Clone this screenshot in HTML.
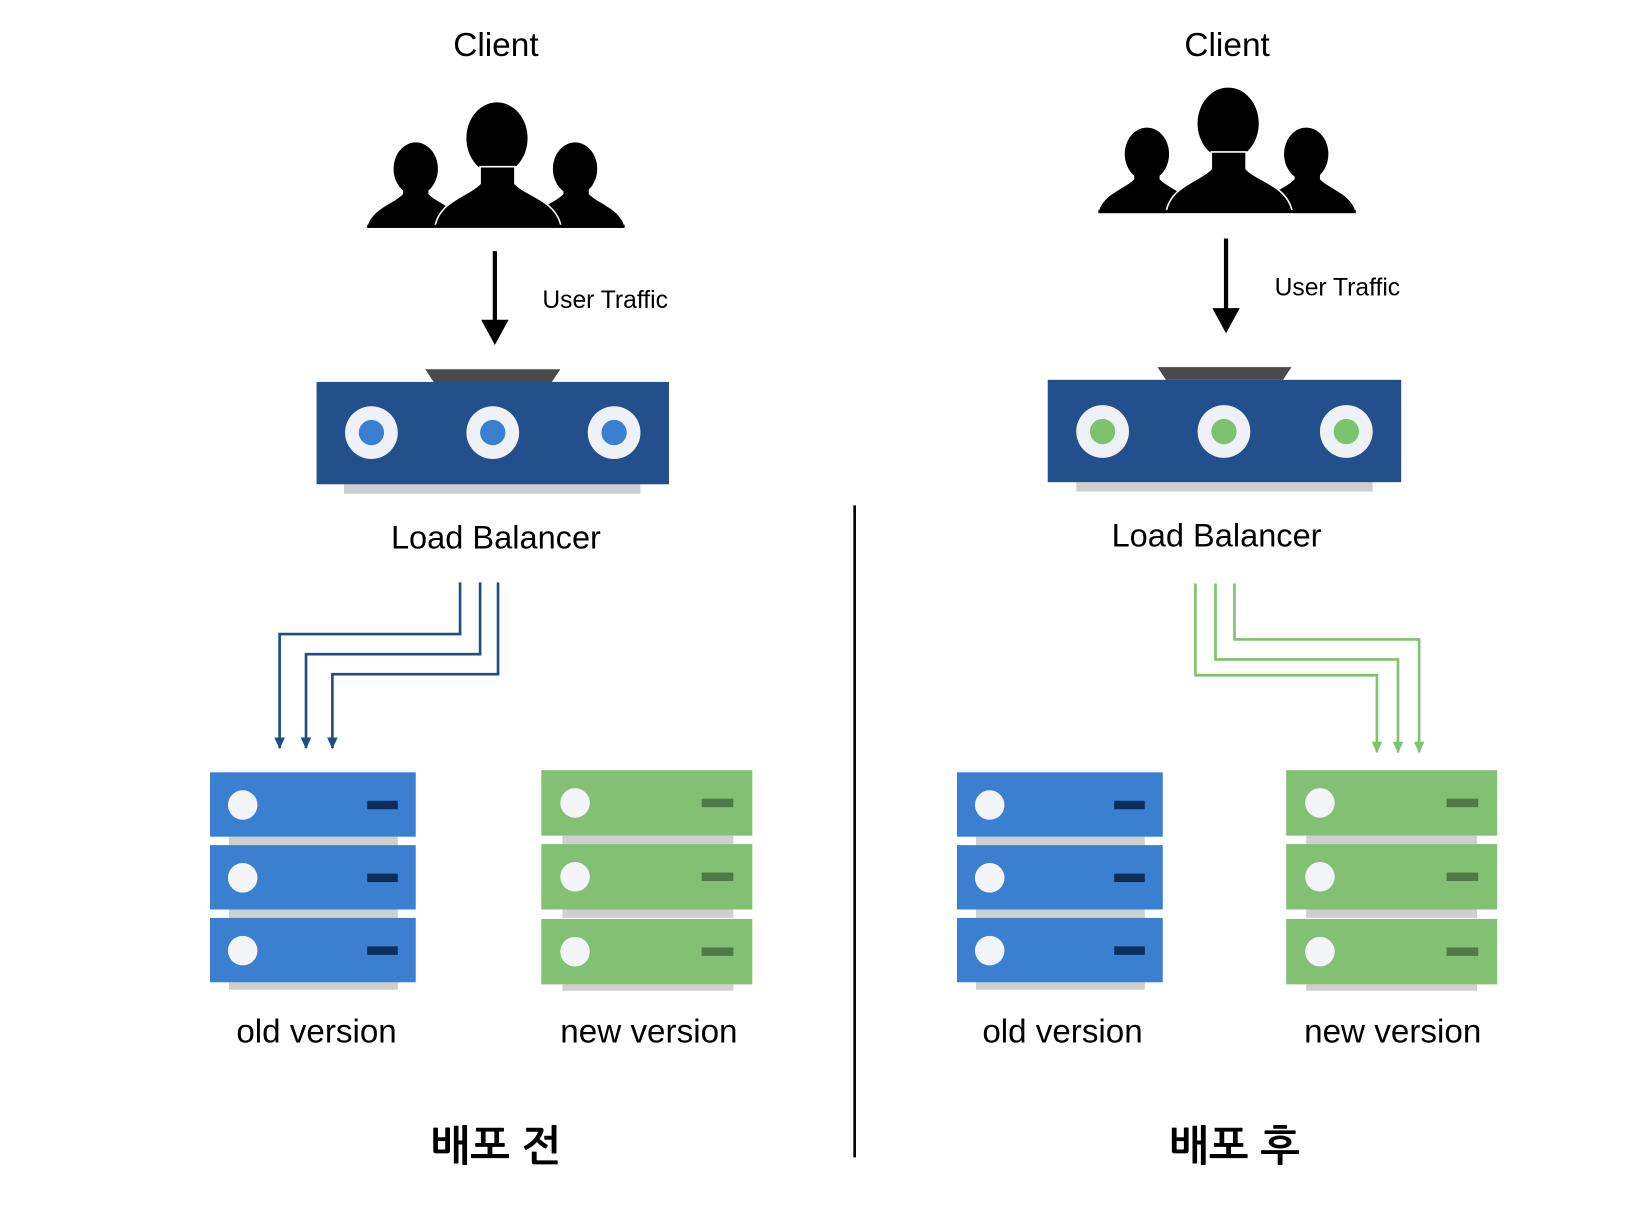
<!DOCTYPE html>
<html><head><meta charset="utf-8"><style>html,body{margin:0;padding:0;background:#fff;}svg{display:block}</style></head>
<body>
<svg width="1646" height="1222" viewBox="0 0 1560 1158.2" xmlns="http://www.w3.org/2000/svg" font-family="Liberation Sans, NanumGothic, sans-serif">
<defs>
<g id="people">
  <ellipse cx="394" cy="160" rx="21" ry="25"/>
  <path d="M348,216 C352,198 372,194 382,184 L382,176 L406,176 L406,184 C416,194 436,198 440,216 Z"/>
  <ellipse cx="545" cy="160" rx="21" ry="25"/>
  <path d="M500,216 C504,198 524,194 534,184 L534,176 L558,176 L558,184 C568,194 588,198 592,216 Z"/>
  <ellipse cx="471" cy="131" rx="29" ry="34"/>
  <path d="M412,216 C416,190 444,186 455,174 L455,158 L488,158 L488,174 C499,186 528,190 532,216 Z" stroke="#fff" stroke-width="1.5"/>
  <rect x="348" y="213" width="244" height="3"/>
</g>
<g id="srvB">
  <rect x="0" y="0" width="195" height="61" fill="#3a7fd0"/>
  <circle cx="31" cy="31" r="14" fill="#f3f5f8"/>
  <rect x="149" y="27" width="29" height="8" fill="#0d2e5a"/>
</g>
<g id="srvG">
  <rect x="0" y="0" width="200" height="62" fill="#82c173"/>
  <circle cx="32" cy="31" r="14" fill="#f3f5f8"/>
  <rect x="152" y="27" width="30" height="8" fill="#4d7a45"/>
</g>
<marker id="ab" markerWidth="11" markerHeight="10" refX="10" refY="5" orient="auto" markerUnits="userSpaceOnUse"><path d="M0,0 L11,5 L0,10 Z" fill="#1f4e85"/></marker>
<marker id="ag" markerWidth="11" markerHeight="10" refX="10" refY="5" orient="auto" markerUnits="userSpaceOnUse"><path d="M0,0 L11,5 L0,10 Z" fill="#7ec46f"/></marker>
</defs>

<!-- LEFT -->
<text x="470" y="53" font-size="32" text-anchor="middle" textLength="81" lengthAdjust="spacingAndGlyphs">Client</text>
<use href="#people"/>
<line x1="469" y1="238" x2="469" y2="305" stroke="#000" stroke-width="4"/>
<path d="M456,303 L482,303 L469,327 Z"/>
<text x="514" y="292" font-size="24" textLength="119" lengthAdjust="spacingAndGlyphs">User Traffic</text>
<path d="M403,350 L531,350 L523,362 L411,362 Z" fill="#4a4a4a"/>
<rect x="326" y="459" width="281" height="9" fill="#cfcfcf"/>
<rect x="300" y="362" width="334" height="97" fill="#234f8c"/>
<g fill="#eef1f6"><circle cx="352" cy="410" r="25"/><circle cx="467" cy="410" r="25"/><circle cx="582" cy="410" r="25"/></g>
<g fill="#3a80d0"><circle cx="352" cy="410" r="12"/><circle cx="467" cy="410" r="12"/><circle cx="582" cy="410" r="12"/></g>
<text x="470" y="520" font-size="31" text-anchor="middle" textLength="199" lengthAdjust="spacingAndGlyphs">Load Balancer</text>
<g fill="none" stroke="#1f4e85" stroke-width="2.5">
<path d="M436,552 V601 H265 V709" marker-end="url(#ab)"/>
<path d="M455,552 V620 H290 V709" marker-end="url(#ab)"/>
<path d="M472,552 V639 H315 V709" marker-end="url(#ab)"/>
</g>
<rect x="217" y="931" width="160" height="7" fill="#cfcfcf"/>
<rect x="217" y="793" width="160" height="8" fill="#cfcfcf"/>
<rect x="217" y="862" width="160" height="9" fill="#cfcfcf"/>
<use href="#srvB" x="199" y="732"/><use href="#srvB" x="199" y="801"/><use href="#srvB" x="199" y="870"/>
<rect x="533" y="933" width="162" height="6" fill="#cfcfcf"/>
<rect x="533" y="792" width="162" height="8" fill="#cfcfcf"/>
<rect x="533" y="862" width="162" height="8" fill="#cfcfcf"/>
<use href="#srvG" x="513" y="730"/><use href="#srvG" x="513" y="800"/><use href="#srvG" x="513" y="871"/>
<text x="300" y="988" font-size="32" text-anchor="middle" textLength="152" lengthAdjust="spacingAndGlyphs">old version</text>
<text x="615" y="988" font-size="32" text-anchor="middle" textLength="168" lengthAdjust="spacingAndGlyphs">new version</text>
<text x="470" y="1100" font-size="40" font-weight="bold" text-anchor="middle" font-family="NanumGothic, Noto Sans CJK KR, sans-serif" textLength="124" lengthAdjust="spacingAndGlyphs">배포 전</text>

<line x1="810" y1="479" x2="810" y2="1097" stroke="#000" stroke-width="2.5"/>

<!-- RIGHT -->
<text x="1163" y="53" font-size="32" text-anchor="middle" textLength="81" lengthAdjust="spacingAndGlyphs">Client</text>
<use href="#people" transform="translate(693,-14)"/>
<line x1="1162" y1="226" x2="1162" y2="294" stroke="#000" stroke-width="4"/>
<path d="M1149,292 L1175,292 L1162,316 Z"/>
<text x="1208" y="280" font-size="24" textLength="119" lengthAdjust="spacingAndGlyphs">User Traffic</text>
<path d="M1097,348 L1224,348 L1216,360 L1105,360 Z" fill="#4a4a4a"/>
<rect x="1020" y="457" width="281" height="9" fill="#cfcfcf"/>
<rect x="993" y="360" width="335" height="97" fill="#234f8c"/>
<g fill="#eef1f6"><circle cx="1045" cy="409" r="25"/><circle cx="1160" cy="409" r="25"/><circle cx="1276" cy="409" r="25"/></g>
<g fill="#7cc36e"><circle cx="1045" cy="409" r="12"/><circle cx="1160" cy="409" r="12"/><circle cx="1276" cy="409" r="12"/></g>
<text x="1153" y="518" font-size="31" text-anchor="middle" textLength="199" lengthAdjust="spacingAndGlyphs">Load Balancer</text>
<g fill="none" stroke="#7ec46f" stroke-width="2.5">
<path d="M1133,553 V640 H1305 V713" marker-end="url(#ag)"/>
<path d="M1152,553 V625 H1325 V713" marker-end="url(#ag)"/>
<path d="M1170,553 V606 H1345 V713" marker-end="url(#ag)"/>
</g>
<rect x="925" y="931" width="160" height="7" fill="#cfcfcf"/>
<rect x="925" y="793" width="160" height="8" fill="#cfcfcf"/>
<rect x="925" y="862" width="160" height="9" fill="#cfcfcf"/>
<use href="#srvB" x="907" y="732"/><use href="#srvB" x="907" y="801"/><use href="#srvB" x="907" y="870"/>
<rect x="1238" y="933" width="162" height="6" fill="#cfcfcf"/>
<rect x="1238" y="792" width="162" height="8" fill="#cfcfcf"/>
<rect x="1238" y="862" width="162" height="8" fill="#cfcfcf"/>
<use href="#srvG" x="1219" y="730"/><use href="#srvG" x="1219" y="800"/><use href="#srvG" x="1219" y="871"/>
<text x="1007" y="988" font-size="32" text-anchor="middle" textLength="152" lengthAdjust="spacingAndGlyphs">old version</text>
<text x="1320" y="988" font-size="32" text-anchor="middle" textLength="168" lengthAdjust="spacingAndGlyphs">new version</text>
<text x="1170" y="1100" font-size="40" font-weight="bold" text-anchor="middle" font-family="NanumGothic, Noto Sans CJK KR, sans-serif" textLength="124" lengthAdjust="spacingAndGlyphs">배포 후</text>
</svg>
</body></html>
